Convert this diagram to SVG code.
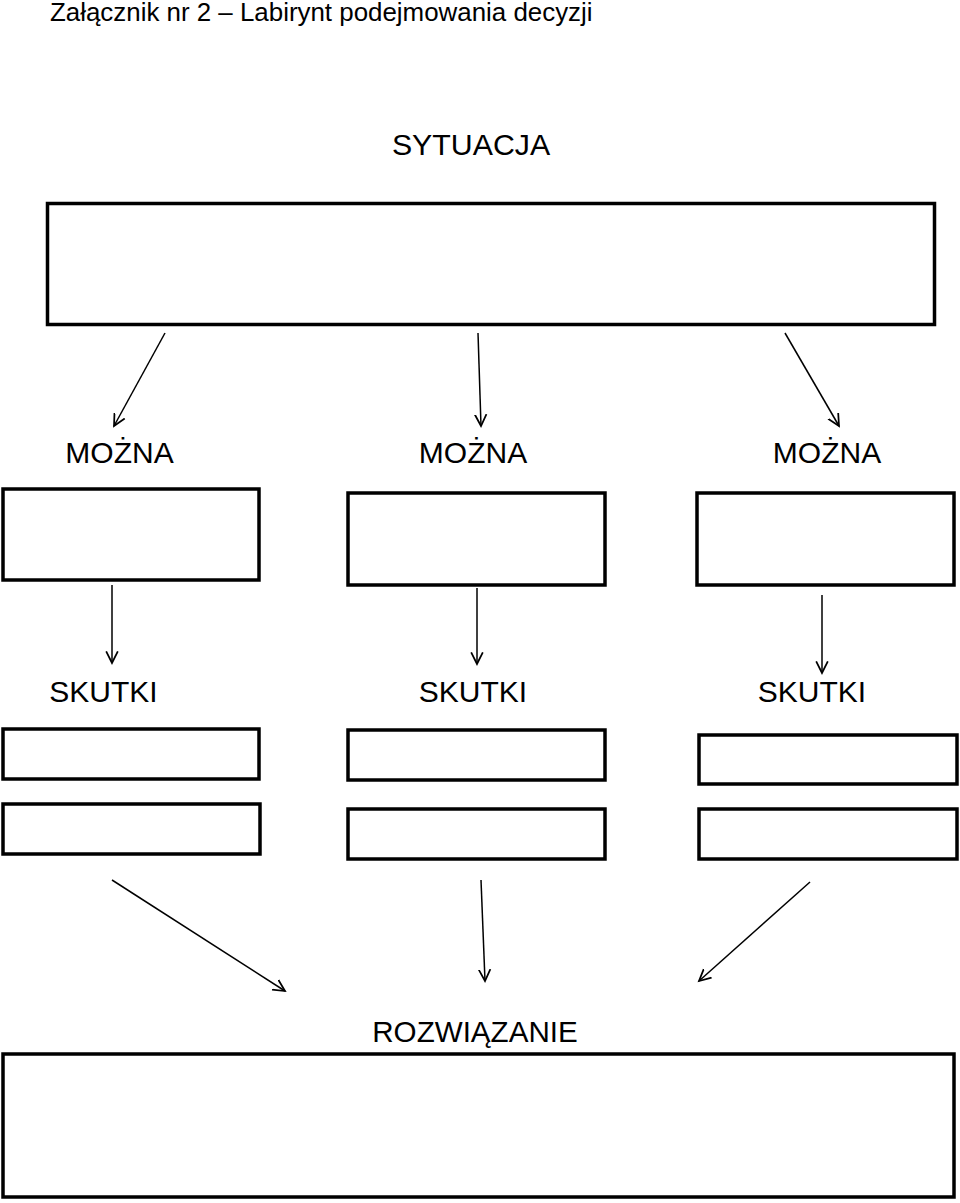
<svg xmlns="http://www.w3.org/2000/svg" width="960" height="1203" viewBox="0 0 960 1203">
<style>
.box{fill:#fff;stroke:#000;stroke-width:3.5}
.lbl{font-family:"Liberation Sans",Arial,sans-serif;fill:#000;text-anchor:middle}
.con{stroke:#000;stroke-width:1.5;fill:none;marker-end:url(#ah)}
</style>
<defs>
<marker id="ah" markerWidth="14" markerHeight="14" refX="10" refY="5" orient="auto" markerUnits="userSpaceOnUse" viewBox="0 0 12 10">
<path d="M0,0 L10,5 L0,10" fill="none" stroke="#000" stroke-width="1.5"/>
</marker>
</defs>
<rect width="960" height="1203" fill="#fff"/>
<text x="50" y="21" font-family="Liberation Sans,Arial,sans-serif" font-size="25.9" fill="#000">Załącznik nr 2 – Labirynt podejmowania decyzji</text>
<g id="sytuacja">
<text class="lbl" x="471" y="155" font-size="30.3">SYTUACJA</text>
<rect class="box" x="47.5" y="203.5" width="887" height="121" stroke-width="4"/>
</g>
<g id="mozna1">
<text class="lbl" x="119.5" y="463" font-size="30">MOŻNA</text>
<rect class="box" x="3" y="489" width="256" height="91"/>
</g>
<g id="mozna2">
<text class="lbl" x="473" y="463" font-size="30">MOŻNA</text>
<rect class="box" x="348" y="493" width="257" height="92"/>
</g>
<g id="mozna3">
<text class="lbl" x="827" y="463" font-size="30">MOŻNA</text>
<rect class="box" x="697" y="493" width="257" height="92"/>
</g>
<g id="skutki1">
<text class="lbl" x="103.5" y="702" font-size="30">SKUTKI</text>
<rect class="box" x="3" y="729" width="256" height="50"/>
<rect class="box" x="3" y="804" width="257" height="50"/>
</g>
<g id="skutki2">
<text class="lbl" x="473" y="702" font-size="30">SKUTKI</text>
<rect class="box" x="348" y="730" width="257" height="50"/>
<rect class="box" x="348" y="809" width="257" height="50"/>
</g>
<g id="skutki3">
<text class="lbl" x="812" y="702" font-size="30">SKUTKI</text>
<rect class="box" x="699" y="735" width="258" height="49"/>
<rect class="box" x="699" y="809" width="258" height="50"/>
</g>
<g id="rozwiazanie">
<text class="lbl" x="475" y="1042" font-size="29.6">ROZWIĄZANIE</text>
<rect class="box" x="3" y="1054" width="951" height="143"/>
</g>
<g id="connectors">
<line class="con" x1="165" y1="333" x2="114" y2="426"/>
<line class="con" x1="478" y1="333" x2="481" y2="426"/>
<line class="con" x1="785" y1="333" x2="839" y2="426"/>
<line class="con" x1="112" y1="585" x2="112" y2="663"/>
<line class="con" x1="477" y1="588" x2="477" y2="664"/>
<line class="con" x1="822" y1="595" x2="822" y2="673"/>
<line class="con" x1="112" y1="880" x2="285" y2="991"/>
<line class="con" x1="481" y1="880" x2="485" y2="981"/>
<line class="con" x1="810" y1="882" x2="699" y2="981"/>
</g>
</svg>
